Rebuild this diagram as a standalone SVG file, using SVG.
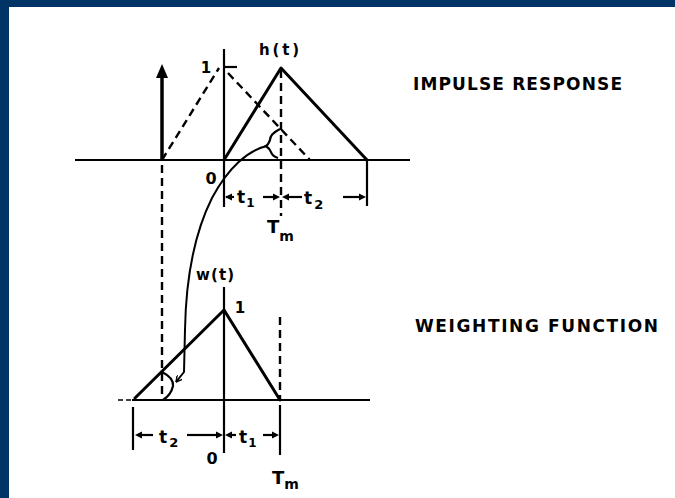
<svg xmlns="http://www.w3.org/2000/svg" width="675" height="498" viewBox="0 0 675 498">
<defs>
<style>
.ln{stroke:#000;stroke-width:3;fill:none;stroke-linecap:round;stroke-linejoin:round}
.ax{stroke:#000;stroke-width:2.2;fill:none}
.ds{stroke:#000;stroke-width:2.4;fill:none;stroke-dasharray:8,5}
.lab{font-family:"DejaVu Sans","Liberation Sans",sans-serif;font-weight:bold;fill:#000}
.big{font-size:17px}
.sm{font-size:15px}
.ah{fill:#000}
</style>
<marker id="openArrow" viewBox="0 0 10 10" refX="9" refY="5" markerWidth="7" markerHeight="7" orient="auto" markerUnits="userSpaceOnUse">
<path d="M0,0 L9,5 L0,10" fill="none" stroke="#000" stroke-width="2"/>
</marker>
</defs>
<rect x="0" y="0" width="675" height="498" fill="#fff"/>
<rect x="0" y="0" width="675" height="7" fill="#003366"/>
<rect x="0" y="0" width="9" height="498" fill="#003366"/>

<g id="impulse-response">
<line class="ax" x1="75" y1="160" x2="410" y2="160"/>
<line class="ax" x1="224" y1="49" x2="224" y2="207"/>
<polyline class="ln" points="224,160 281,68 367,160"/>
<line x1="162" y1="160" x2="162" y2="76" stroke="#000" stroke-width="3.5"/>
<polygon class="ah" points="162,64 156,78 168,78"/>
<line class="ds" x1="162" y1="160" x2="219" y2="68"/>
<line class="ds" x1="228" y1="73" x2="310" y2="160"/>
<line class="ax" x1="224" y1="67" x2="237" y2="67"/>
<line class="ds" x1="281" y1="70" x2="281" y2="216"/>
<path class="ax" d="M280,129 Q270,134 270,140 Q268,145 266,146 Q270,149 271,152 Q272,156 278,158"/>
<line class="ax" x1="367" y1="160" x2="367" y2="206"/>
<text class="lab sm" x="259" y="55" textLength="40" lengthAdjust="spacing">h(t)</text>
<text class="lab sm" x="206" y="73" text-anchor="middle">1</text>
<text class="lab" x="211" y="184" text-anchor="middle" font-size="16">0</text>
</g>

<g id="upper-dimensions">
<line class="ax" x1="226" y1="197" x2="234" y2="197"/>
<polygon class="ah" points="225,197 232,193.5 232,200.5"/>
<text class="lab" x="237" y="203" font-size="17">t<tspan font-size="12" dy="4" dx="1">1</tspan></text>
<line class="ax" x1="263" y1="197" x2="276" y2="197"/>
<polygon class="ah" points="280,197 273,193.5 273,200.5"/>
<polygon class="ah" points="282,197 289,193.5 289,200.5"/>
<line class="ax" x1="286" y1="197" x2="302" y2="197"/>
<text class="lab" x="304" y="204" font-size="17">t<tspan font-size="13" dy="5" dx="2">2</tspan></text>
<line class="ax" x1="343" y1="197" x2="362" y2="197"/>
<polygon class="ah" points="366,197 359,193.5 359,200.5"/>
<text class="lab" x="267" y="233" font-size="18">T<tspan font-size="14" dy="8">m</tspan></text>
</g>

<g id="weighting-function">
<line x1="118" y1="400" x2="132" y2="400" stroke="#000" stroke-width="1.5" stroke-dasharray="5,3"/>
<line class="ax" x1="132" y1="400" x2="370" y2="400"/>
<line class="ax" x1="224" y1="287" x2="224" y2="453"/>
<polyline class="ln" points="135,398 224,310 280,400"/>
<line class="ds" x1="162" y1="165" x2="162" y2="400"/>
<line class="ds" x1="280" y1="317" x2="280" y2="400"/>
<line class="ax" x1="280" y1="405" x2="280" y2="455"/>
<line class="ax" x1="133" y1="407" x2="133" y2="450"/>
<path class="ax" d="M162,372 Q174,378 173,386 Q171,395 163,400"/>
<text class="lab sm" x="196" y="280" textLength="38" lengthAdjust="spacing">w(t)</text>
<text class="lab sm" x="240" y="313" text-anchor="middle">1</text>
<text class="lab" x="212" y="464" text-anchor="middle" font-size="16">0</text>
</g>

<g id="lower-dimensions">
<polygon class="ah" points="135,435 142,431.5 142,438.5"/>
<line class="ax" x1="140" y1="435" x2="153" y2="435"/>
<text class="lab" x="159" y="443" font-size="17">t<tspan font-size="13" dy="4" dx="2">2</tspan></text>
<line class="ax" x1="187" y1="435" x2="219" y2="435"/>
<polygon class="ah" points="223,435 216,431.5 216,438.5"/>
<polygon class="ah" points="225,435 232,431.5 232,438.5"/>
<line class="ax" x1="230" y1="435" x2="236" y2="435"/>
<text class="lab" x="239" y="443" font-size="17">t<tspan font-size="12" dy="4" dx="1">1</tspan></text>
<line class="ax" x1="263" y1="435" x2="275" y2="435"/>
<polygon class="ah" points="279,435 272,431.5 272,438.5"/>
<text class="lab" x="272" y="484" font-size="18">T<tspan font-size="14" dy="5">m</tspan></text>
</g>

<g id="titles">
<text class="lab big" x="413" y="90" textLength="209" lengthAdjust="spacing">IMPULSE RESPONSE</text>
<text class="lab big" x="415" y="332" textLength="243" lengthAdjust="spacing">WEIGHTING FUNCTION</text>
</g>

<g id="connectors">
<path d="M267,146 C248,150 228,168 212,198 C196,230 186,272 185,330 L184,372 L176,382" fill="none" stroke="#000" stroke-width="2" marker-end="url(#openArrow)"/>
</g>
</svg>
